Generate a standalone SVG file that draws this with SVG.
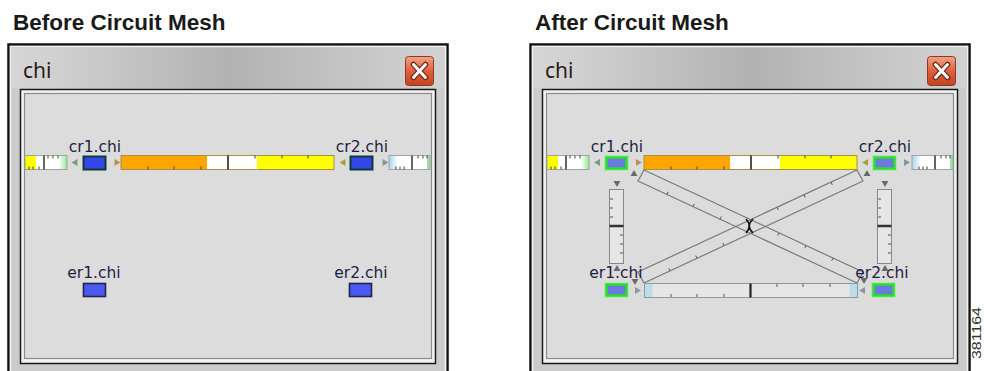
<svg xmlns="http://www.w3.org/2000/svg" width="984" height="371" viewBox="0 0 984 371">
<style>
.ttl{font-family:"Liberation Sans",Arial,sans-serif;font-weight:bold;font-size:22.5px;fill:#1a1a1a}
.wt{font-family:"Noto Sans","DejaVu Sans",sans-serif;font-size:21px;fill:#2b1b1b}
.lbl{font-family:"DejaVu Sans","Noto Sans",sans-serif;font-size:15.5px;fill:#1e1e44;text-anchor:middle}
.tk{stroke:#4a4030;stroke-width:1}
.tkg{stroke:#555;stroke-width:1}
.band{fill:none;stroke:#7a7a7a;stroke-width:1.2}
.cn{fill:#3346e8;stroke:#0e3a3a;stroke-width:2}
.en{fill:#4a5af0;stroke:#22224e;stroke-width:1.6}
.gn{fill:#6a7ae0;stroke:#2ae02a;stroke-width:2.5}
.gl{fill:none;stroke:#7cf07c;stroke-width:5;opacity:0.45}
</style>
<defs>
<linearGradient id="tb" x1="0" x2="1" y1="0" y2="0">
<stop offset="0" stop-color="#d6d6d6"/><stop offset="0.12" stop-color="#cfcfcf"/><stop offset="0.5" stop-color="#b2b2b2"/><stop offset="0.8" stop-color="#c6c6c6"/><stop offset="1" stop-color="#d2d2d2"/>
</linearGradient>
<linearGradient id="cb" x1="0" x2="0" y1="0" y2="1">
<stop offset="0" stop-color="#f2a486"/><stop offset="0.5" stop-color="#e0603e"/><stop offset="1" stop-color="#c4421f"/>
</linearGradient>
<linearGradient id="gr" x1="0" x2="1"><stop offset="0" stop-color="#ffffff"/><stop offset="1" stop-color="#98e498"/></linearGradient>
<linearGradient id="bl" x1="0" x2="1"><stop offset="0" stop-color="#a8d4e6"/><stop offset="1" stop-color="#ffffff"/></linearGradient>
<path id="tr" d="M-3,-3.5L3,0L-3,3.5Z"/>
<path id="tl" d="M3,-3.5L-3,0L3,3.5Z"/>
<path id="tu" d="M-3.5,3L0,-3L3.5,3Z"/>
<path id="td" d="M-3.5,-3L0,3L3.5,-3Z"/>
<g id="win">
<rect x="8.5" y="44.5" width="439" height="340" fill="#cbcbcb" stroke="#111" stroke-width="2.5"/>
<rect x="10.5" y="46.5" width="435" height="336" fill="none" stroke="#f2f2f2" stroke-width="1.5"/>
<rect x="11.5" y="47.5" width="433" height="41" fill="url(#tb)"/>
<rect x="20.5" y="89.5" width="415" height="274" fill="#f2f2f2" stroke="#1a1a1a" stroke-width="1.5"/>
<rect x="24.5" y="93.5" width="407" height="265" fill="#dcdcdc" stroke="#8c8c8c" stroke-width="1.2"/>
<rect x="405.5" y="56.5" width="28" height="29" rx="3" fill="url(#cb)" stroke="#8a3a2a"/>
<path d="M413.5,64.5L425.5,77.5M425.5,64.5L413.5,77.5" stroke="#6a2a1a" stroke-width="5.5" stroke-linecap="round"/>
<path d="M413.5,64.5L425.5,77.5M425.5,64.5L413.5,77.5" stroke="#fff" stroke-width="3" stroke-linecap="round"/>
</g>
<g id="lp">
<rect x="0" y="0" width="42" height="14" fill="#fff"/>
<rect x="0" y="0" width="11" height="14" fill="#ffff00"/>
<rect x="34" y="0" width="8" height="14" fill="url(#gr)"/>
<rect x="0" y="0" width="42" height="14" fill="none" stroke="#9aa89a"/>
<path d="M19,0V14" stroke="#333" stroke-width="1.5"/>
<path class="tk" d="M4,14V11M8,14V11M14,14V11M23,0V3M28,0V3M33,0V3"/>
</g>
<g id="rp">
<rect x="0" y="0" width="41" height="14" fill="#fff"/>
<rect x="0" y="0" width="9" height="14" fill="url(#bl)"/>
<rect x="38" y="0" width="3" height="14" fill="#98e498"/>
<rect x="0" y="0" width="41" height="14" fill="none" stroke="#9aa8b0"/>
<path d="M23,0V14" stroke="#333" stroke-width="1.5"/>
<path class="tk" d="M7,14V11M11,14V11M15,14V11M29,0V3M34,0V3M38,0V3"/>
</g>
<g id="mb">
<rect x="0" y="0" width="86" height="14" fill="#ffa500"/>
<rect x="86" y="0" width="50" height="14" fill="#fff"/>
<rect x="136" y="0" width="77" height="14" fill="#ffff00"/>
<rect x="0" y="0" width="213" height="14" fill="none" stroke="#a89040"/>
<path d="M107,0V14" stroke="#222" stroke-width="1.6"/>
<path class="tk" d="M27,14V11M53,14V11M80,14V11M134,0V3M161,0V3M187,0V3"/>
</g>
</defs>

<text class="ttl" x="13" y="30">Before Circuit Mesh</text>
<text class="ttl" x="535" y="30">After Circuit Mesh</text>

<g id="window-before">
<use href="#win"/>
<text class="wt" x="23" y="78">chi</text>
</g>
<g id="window-after" transform="translate(522,0)">
<use href="#win"/>
<text class="wt" x="23" y="78">chi</text>
</g>

<g id="connectors">
<use href="#lp" x="25" y="155.5"/>
<use href="#mb" x="121" y="155.5"/>
<use href="#rp" x="389" y="155.5"/>
<use href="#tl" x="74.5" y="162.5" fill="#7e9a78"/>
<use href="#tr" x="117.5" y="162.5" fill="#b89060"/>
<use href="#tl" x="342.5" y="162.5" fill="#a8a040"/>
<use href="#tr" x="385.5" y="162.5" fill="#8898a0"/>
<use href="#lp" x="547" y="155.5"/>
<use href="#mb" x="644" y="155.5"/>
<use href="#rp" x="912" y="155.5"/>
<use href="#tl" x="597" y="162.5" fill="#7e9a78"/>
<use href="#tr" x="639" y="162.5" fill="#b89060"/>
<use href="#tl" x="865" y="162.5" fill="#a8a040"/>
<use href="#tr" x="907" y="162.5" fill="#8898a0"/>
<path class="band" d="M644,170L863,272L857,283L638,181Z"/>
<path class="band" d="M857,170L638,272L644,283L863,181Z"/>
<path class="tkg" d="M667,194.5l1.3,-2.7M693,206.6l1.3,-2.7M720,219.2l1.3,-2.7M779,232.9l-1.3,2.7M806,245.5l-1.3,2.7M833,258l-1.3,2.7"/>
<path class="tkg" d="M670,270.9l-1.3,-2.7M697,258.3l-1.3,-2.7M724,245.7l-1.3,-2.7M777,207.3l1.3,2.7M804,194.7l1.3,2.7M831,182.1l1.3,2.7"/>
<path d="M746,219Q752.5,226 746,233M753,219Q745.5,226 753,233" fill="none" stroke="#111" stroke-width="1.6"/>
<rect x="609.5" y="189.5" width="14" height="74" fill="#e6e6e6" stroke="#888"/>
<path d="M609.5,226H623.5" stroke="#333" stroke-width="2.5"/>
<path class="tkg" d="M610,199H613M610,208H613M610,217H613M623,235H620M623,244H620M623,253H620"/>
<rect x="877.5" y="189.5" width="14" height="74" fill="#e6e6e6" stroke="#888"/>
<path d="M877.5,226H891.5" stroke="#333" stroke-width="2.5"/>
<path class="tkg" d="M878,199H881M878,208H881M878,217H881M891,235H888M891,244H888M891,253H888"/>
<rect x="644.5" y="283.5" width="213" height="14" fill="#e6e6e6"/>
<rect x="644.5" y="283.5" width="8" height="14" fill="#bcdce8"/>
<rect x="849.5" y="283.5" width="8" height="14" fill="#bcdce8"/>
<rect x="644.5" y="283.5" width="213" height="14" fill="none" stroke="#8a9aa2"/>
<path d="M750.5,283.5V297.5" stroke="#222" stroke-width="2.2"/>
<path class="tkg" d="M671,297V294M697,297V294M724,297V294M777,284V287M803,284V287M830,284V287"/>
<g fill="#6a6a6a">
<use href="#tu" x="634" y="173"/>
<use href="#tu" x="867" y="173"/>
<use href="#td" x="617" y="184"/>
<use href="#td" x="885" y="184"/>
<use href="#tu" x="617" y="268"/>
<use href="#tu" x="885" y="268"/>
<use href="#td" x="635" y="282"/>
<use href="#td" x="864" y="281"/>
</g>
<use href="#tr" x="638" y="290.5" fill="#8898a0"/>
<use href="#tl" x="862" y="290.5" fill="#8898a0"/>
</g>

<g id="before-cr1"><rect class="cn" x="83.5" y="156.5" width="22" height="13"/><text class="lbl" x="95" y="152">cr1.chi</text></g>
<g id="before-cr2"><rect class="cn" x="350.5" y="156.5" width="22" height="13"/><text class="lbl" x="362" y="152">cr2.chi</text></g>
<g id="before-er1"><rect class="en" x="83.5" y="283.5" width="22" height="13"/><text class="lbl" x="94" y="278">er1.chi</text></g>
<g id="before-er2"><rect class="en" x="349.5" y="283.5" width="22" height="13"/><text class="lbl" x="361" y="278">er2.chi</text></g>

<g id="after-cr1"><rect class="gl" x="606.5" y="157.5" width="20" height="11"/><rect class="gn" x="606.5" y="157.5" width="20" height="11"/><text class="lbl" x="617" y="152">cr1.chi</text></g>
<g id="after-cr2"><rect class="gl" x="874.5" y="157.5" width="20" height="11"/><rect class="gn" x="874.5" y="157.5" width="20" height="11"/><text class="lbl" x="885" y="152">cr2.chi</text></g>
<g id="after-er1"><rect class="gl" x="606.5" y="284.5" width="20" height="11"/><rect class="gn" x="606.5" y="284.5" width="20" height="11"/><text class="lbl" x="616" y="278">er1.chi</text></g>
<g id="after-er2"><rect class="gl" x="873.5" y="284.5" width="20" height="11"/><rect class="gn" x="873.5" y="284.5" width="20" height="11"/><text class="lbl" x="882" y="278">er2.chi</text></g>

<text x="981" y="359" transform="rotate(-90 981 359)" font-family="Liberation Sans,Arial,sans-serif" font-size="12.5" fill="#333" textLength="52" lengthAdjust="spacingAndGlyphs">381164</text>
</svg>
